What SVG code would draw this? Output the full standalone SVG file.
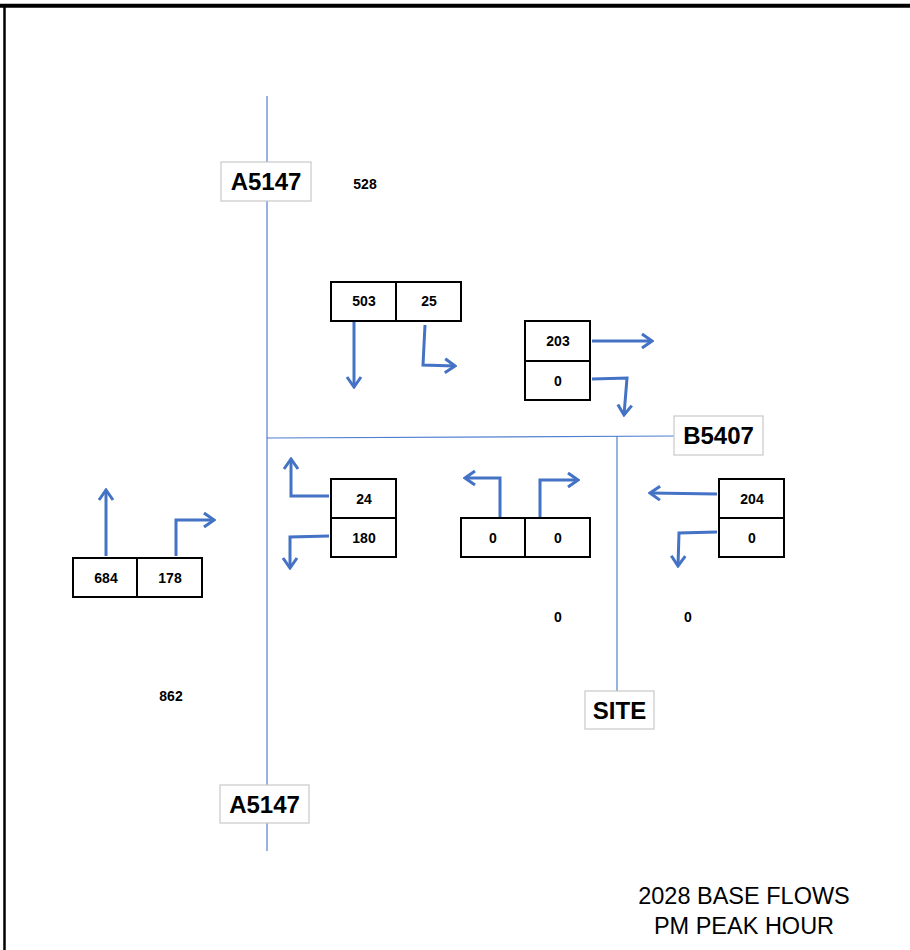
<svg xmlns="http://www.w3.org/2000/svg" width="910" height="950" viewBox="0 0 910 950">
<style>
.road{stroke:#4f7fd0;stroke-width:1.2;fill:none}
.arr{stroke:#4472C4;stroke-width:3;fill:none;stroke-linejoin:miter}
.cell{fill:#fff;stroke:#000;stroke-width:2}
.lab{fill:#fff;stroke:#c8c8c8;stroke-width:1.2}
.num{font-family:"Liberation Sans",Arial,sans-serif;font-weight:bold;font-size:14px;text-anchor:middle;fill:#000}
.road-t{font-family:"Liberation Sans",Arial,sans-serif;font-weight:bold;font-size:24px;text-anchor:middle;fill:#000}
.title{font-family:"Liberation Sans",Arial,sans-serif;font-size:23.5px;text-anchor:middle;fill:#000}
</style>
<defs>
<marker id="ah" markerUnits="userSpaceOnUse" orient="auto" viewBox="-14 -10 16 20" refX="0" refY="0" markerWidth="16" markerHeight="20">
<path d="M-10,-7 L0,0 L-10,7" fill="none" stroke="#4472C4" stroke-width="3"/>
</marker>
</defs>
<rect width="910" height="950" fill="#fff"/>
<g id="frame">
<line x1="0" y1="5.8" x2="910" y2="5.8" stroke="#000" stroke-width="4"/>
<line x1="4.5" y1="6" x2="4.5" y2="950" stroke="#000" stroke-width="2.5"/>
</g>
<g id="roads">
<line class="road" x1="267" y1="96" x2="267" y2="851"/>
<line class="road" x1="267" y1="438" x2="675" y2="436"/>
<line class="road" x1="617" y1="436" x2="617" y2="692"/>
</g>
<g id="connectors">
<polyline class="arr" points="354,320 354,387" marker-end="url(#ah)"/>
<polyline class="arr" points="425,325 423,365 455,366" marker-end="url(#ah)"/>
<polyline class="arr" points="592,341 652,341" marker-end="url(#ah)"/>
<polyline class="arr" points="592,379 627,378 624,415" marker-end="url(#ah)"/>
<polyline class="arr" points="329,496 291,496 291,459" marker-end="url(#ah)"/>
<polyline class="arr" points="329,536 290,537 290,568" marker-end="url(#ah)"/>
<polyline class="arr" points="500,517 500,478 465,478" marker-end="url(#ah)"/>
<polyline class="arr" points="540,517 540,480 578,480" marker-end="url(#ah)"/>
<polyline class="arr" points="717,494 650,493" marker-end="url(#ah)"/>
<polyline class="arr" points="717,532 679,533 678,566" marker-end="url(#ah)"/>
<polyline class="arr" points="106,556 106,490" marker-end="url(#ah)"/>
<polyline class="arr" points="176,556 176,520 214,520" marker-end="url(#ah)"/>
</g>
<g id="label-a5147-north">
<rect class="lab" x="221" y="162" width="90" height="39"/>
<text class="road-t" x="266" y="190">A5147</text>
</g>
<g id="label-b5407">
<rect class="lab" x="674" y="416" width="89" height="39"/>
<text class="road-t" x="718.5" y="444">B5407</text>
</g>
<g id="label-site">
<rect class="lab" x="585" y="691" width="69" height="38"/>
<text class="road-t" x="619.5" y="718.5">SITE</text>
</g>
<g id="label-a5147-south">
<rect class="lab" x="220" y="785" width="89" height="38"/>
<text class="road-t" x="264.5" y="812.5">A5147</text>
</g>
<g id="box-north">
<rect class="cell" x="331" y="282" width="65" height="39"/>
<rect class="cell" x="396" y="282" width="65" height="39"/>
<text class="num" x="364" y="306">503</text>
<text class="num" x="429" y="306">25</text>
</g>
<g id="box-east-top">
<rect class="cell" x="525" y="321" width="65" height="40"/>
<rect class="cell" x="525" y="361" width="65" height="39"/>
<text class="num" x="558" y="346">203</text>
<text class="num" x="558" y="385.5">0</text>
</g>
<g id="box-west-side">
<rect class="cell" x="331" y="479" width="65" height="39"/>
<rect class="cell" x="331" y="518" width="65" height="39"/>
<text class="num" x="364" y="503.5">24</text>
<text class="num" x="364" y="542.5">180</text>
</g>
<g id="box-site">
<rect class="cell" x="461" y="518" width="64" height="39"/>
<rect class="cell" x="525" y="518" width="65" height="39"/>
<text class="num" x="493" y="542.5">0</text>
<text class="num" x="558" y="542.5">0</text>
</g>
<g id="box-east">
<rect class="cell" x="719" y="479" width="65" height="39"/>
<rect class="cell" x="719" y="518" width="65" height="39"/>
<text class="num" x="752" y="503.5">204</text>
<text class="num" x="752" y="542.5">0</text>
</g>
<g id="box-south">
<rect class="cell" x="73" y="558" width="64" height="39"/>
<rect class="cell" x="137" y="558" width="65" height="39"/>
<text class="num" x="106" y="582.5">684</text>
<text class="num" x="170" y="582.5">178</text>
</g>
<g id="totals">
<text class="num" x="365" y="189">528</text>
<text class="num" x="558" y="622">0</text>
<text class="num" x="688" y="622">0</text>
<text class="num" x="171" y="701">862</text>
</g>
<g id="title">
<text class="title" x="744" y="904">2028 BASE FLOWS</text>
<text class="title" x="744" y="934">PM PEAK HOUR</text>
</g>
</svg>
